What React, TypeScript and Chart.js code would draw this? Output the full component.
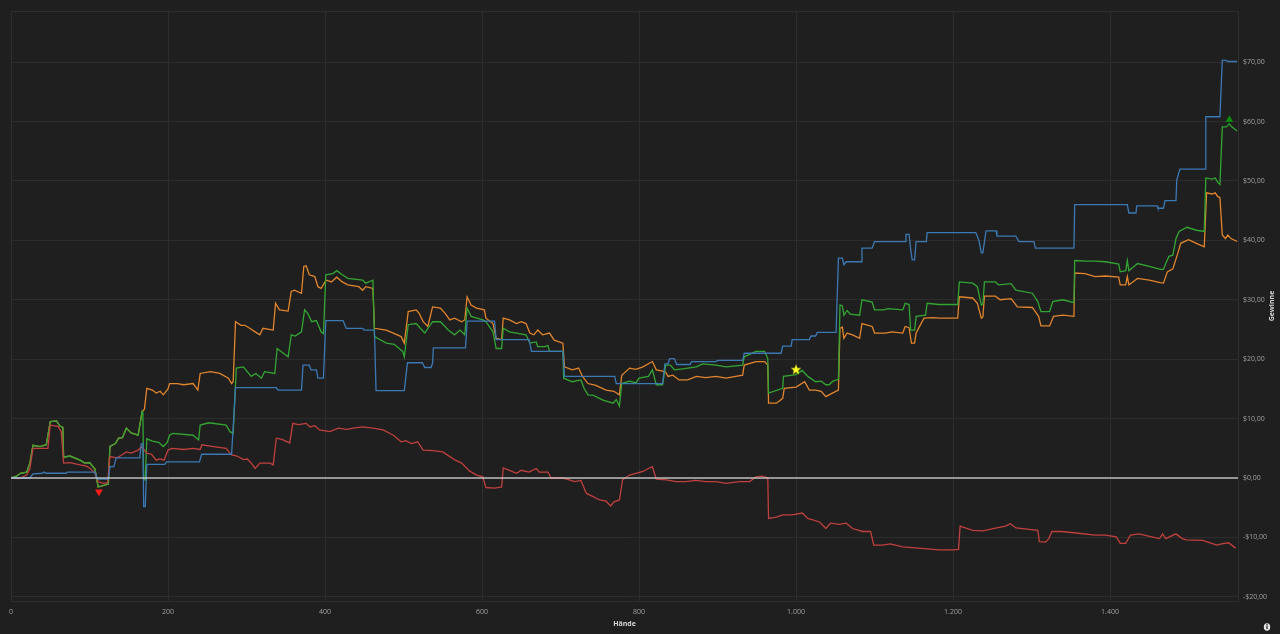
import React, { useEffect, useRef } from "react";
import { Chart, registerables } from "chart.js";

Chart.register(...registerables);

// ---- data: [hand, profit] ----
const blueSeries: [number, number][] = [
  [0, 0], [24, 0], [28, 0.7], [40, 0.8], [42, 1.0], [45, 0.8], [70, 0.8], [72, 1.0], [107, 1.0], [110, -0.2], [124, -0.2],
  [126, 1.9], [131, 1.9], [134, 3.4], [164, 3.4], [166, 5.8], [168, 5.8], [169, -4.8], [171, -4.8], [173, 2.3], [196, 2.3],
  [198, 2.7], [240, 2.7], [243, 4.0], [281, 4.0], [286, 15.2], [338, 15.2], [340, 14.8], [370, 14.8], [372, 19.0], [380, 19.0],
  [382, 18.2], [389, 18.2], [391, 16.8], [398, 16.8], [401, 26.5], [423, 26.5], [427, 25.2], [448, 25.2], [450, 24.9], [463, 24.9],
  [465, 14.7], [501, 14.7], [505, 19.4], [524, 19.4], [527, 18.6], [535, 18.6], [537, 19.3], [538, 21.9], [579, 21.9], [581, 26.4],
  [616, 26.4], [618, 23.3], [660, 23.3], [663, 21.3], [703, 21.3], [705, 17.1], [769, 17.1], [771, 15.9], [830, 15.9], [833, 19.2],
  [837, 19.2], [839, 20.1], [845, 20.1], [848, 19.1], [865, 19.1], [867, 19.6], [898, 19.6], [900, 19.8], [932, 19.8], [934, 21.0],
  [981, 21.0], [983, 22.2], [994, 22.2], [995, 23.3], [1017, 23.3], [1019, 23.9], [1025, 23.9], [1027, 24.5], [1051, 24.5], [1054, 37.0],
  [1059, 37.0], [1061, 35.9], [1064, 36.4], [1083, 36.4], [1084, 38.7], [1097, 38.7], [1100, 39.8], [1139, 39.8], [1140, 41.0], [1144, 41.0],
  [1146, 38.5], [1148, 36.7], [1151, 36.7], [1153, 39.8], [1166, 39.8], [1167, 41.3], [1229, 41.3], [1233, 40.0], [1236, 37.9], [1238, 37.9],
  [1242, 41.6], [1255, 41.6], [1256, 40.7], [1280, 40.7], [1284, 39.8], [1303, 39.8], [1305, 38.7], [1354, 38.7], [1355, 46.0], [1422, 46.0],
  [1424, 44.6], [1433, 44.6], [1434, 45.8], [1460, 45.8], [1461, 45.4], [1468, 45.4], [1470, 46.7], [1484, 46.7], [1485, 50.2], [1489, 52.0],
  [1521, 52.0], [1522, 60.8], [1540, 60.8], [1543, 70.3], [1548, 70.3], [1550, 70.1], [1562, 70.1],
];

const orangeSeries: [number, number][] = [
  [0, 0], [7, 0.3], [12, 0.8], [20, 1.0], [24, 2.5], [28, 5.5], [37, 5.3], [45, 5.6], [50, 9.5], [58, 9.6], [62, 8.8], [66, 8.5],
  [67, 3.5], [75, 3.7], [88, 3.0], [94, 2.5], [100, 2.6], [107, 1.5], [111, -1.5], [117, -1.3], [124, -1.0], [126, 5.3], [133, 5.8],
  [137, 6.7], [142, 6.8], [147, 8.4], [153, 7.6], [162, 7.2], [167, 11.2], [170, 11.6], [173, 15.1], [180, 14.8], [185, 14.3], [190, 14.6],
  [194, 14.0], [200, 15.0], [202, 15.9], [212, 15.9], [220, 15.7], [232, 15.9], [238, 14.8], [241, 17.6], [254, 17.9], [266, 17.6],
  [277, 16.8], [281, 15.9], [283, 16.2], [286, 26.3], [293, 25.7], [298, 25.7], [304, 25.2], [311, 24.6], [317, 24.1], [321, 25.2],
  [334, 24.9], [337, 29.4], [342, 28.3], [353, 28.1], [357, 31.4], [361, 31.6], [370, 31.1], [373, 35.6], [376, 35.7], [380, 34.2],
  [387, 33.9], [391, 32.2], [395, 31.9], [400, 33.0], [402, 33.3], [408, 33.0], [415, 33.8], [422, 33.0], [429, 32.5], [443, 32.2],
  [448, 31.6], [452, 32.2], [461, 31.9], [463, 25.2], [478, 24.9], [487, 24.4], [497, 23.8], [501, 22.7], [506, 28.0], [516, 28.3],
  [520, 27.7], [525, 26.3], [531, 25.5], [537, 28.8], [547, 28.6], [553, 27.7], [559, 26.6], [565, 26.9], [574, 26.3], [578, 26.6],
  [581, 30.5], [586, 29.1], [593, 28.6], [603, 28.3], [605, 26.9], [614, 26.0], [618, 23.5], [625, 23.3], [627, 26.9], [635, 26.6],
  [644, 26.0], [650, 26.3], [656, 26.0], [661, 24.4], [666, 24.1], [671, 24.9], [677, 24.1], [686, 24.4], [692, 23.2], [703, 22.7],
  [705, 18.7], [715, 18.2], [723, 18.5], [728, 17.1], [735, 15.9], [745, 15.6], [758, 14.8], [768, 14.6], [775, 14.0], [778, 17.3],
  [788, 18.5], [796, 18.3], [805, 18.7], [817, 19.6], [822, 18.2], [830, 18.0], [834, 17.8], [837, 17.1], [843, 17.3], [851, 16.5],
  [862, 16.5], [873, 17.1], [885, 16.9], [898, 17.1], [911, 16.8], [932, 17.3], [934, 19.0], [949, 19.6], [960, 19.6], [964, 19.0],
  [965, 12.6], [975, 12.6], [983, 13.4], [985, 15.1], [1000, 15.3], [1011, 16.2], [1017, 14.8], [1025, 14.8], [1032, 14.6], [1038, 13.7],
  [1045, 14.2], [1054, 14.8], [1056, 25.2], [1059, 25.4], [1061, 23.5], [1065, 24.4], [1072, 24.1], [1081, 23.5], [1084, 26.0], [1097, 25.5],
  [1100, 24.4], [1114, 24.4], [1122, 24.6], [1136, 24.4], [1139, 25.5], [1144, 25.3], [1147, 22.7], [1151, 22.7], [1153, 24.4], [1163, 26.9],
  [1175, 27.0], [1182, 26.9], [1206, 26.9], [1208, 30.5], [1225, 30.3], [1231, 29.4], [1236, 26.9], [1238, 27.1], [1240, 30.6], [1254, 30.6],
  [1260, 30.0], [1274, 30.2], [1282, 28.8], [1301, 28.7], [1309, 27.2], [1312, 25.6], [1323, 25.6], [1328, 27.2], [1340, 27.4], [1354, 27.2],
  [1355, 34.5], [1368, 34.4], [1381, 33.9], [1394, 34.0], [1411, 33.8], [1413, 32.5], [1420, 32.5], [1422, 33.9], [1424, 32.5], [1435, 33.6],
  [1450, 33.3], [1464, 32.9], [1468, 32.8], [1473, 34.7], [1480, 35.2], [1487, 38.1], [1490, 39.5], [1500, 40.1], [1510, 39.5], [1520, 38.9],
  [1523, 48.0], [1530, 47.8], [1534, 48.0], [1537, 47.4], [1540, 47.2], [1543, 40.9], [1547, 40.3], [1550, 40.9], [1554, 40.3], [1562, 39.8],
];

const greenSeries: [number, number][] = [
  [0, 0], [7, 0.3], [12, 0.8], [20, 1.0], [24, 2.5], [28, 5.5], [37, 5.3], [45, 5.6], [50, 9.5], [58, 9.6], [62, 8.8], [66, 8.5],
  [67, 3.5], [75, 3.7], [88, 3.0], [94, 2.5], [100, 2.6], [107, 1.5], [111, -1.5], [117, -1.3], [124, -1.0], [126, 5.3], [133, 5.8],
  [137, 6.7], [142, 6.8], [147, 8.4], [153, 7.6], [162, 7.2], [167, 11.2], [168, 11.0], [169, -0.3], [171, -0.3], [173, 6.6], [180, 6.2],
  [188, 6.0], [194, 5.3], [199, 6.0], [202, 7.2], [206, 7.5], [232, 7.2], [239, 6.4], [241, 8.9], [252, 9.3], [274, 8.9], [279, 7.8],
  [283, 7.5], [287, 18.5], [296, 18.7], [306, 17.1], [312, 17.6], [319, 16.8], [323, 17.9], [336, 17.6], [339, 21.8], [344, 21.3],
  [353, 20.4], [357, 24.1], [362, 23.9], [370, 24.6], [374, 28.3], [378, 27.7], [383, 26.3], [389, 26.5], [395, 24.6], [398, 24.3],
  [401, 34.2], [410, 34.4], [415, 34.9], [422, 34.2], [429, 33.6], [448, 33.3], [452, 32.8], [461, 33.3], [463, 23.8], [478, 22.7],
  [488, 22.5], [499, 21.3], [501, 20.4], [506, 25.8], [516, 26.0], [527, 24.4], [537, 26.3], [547, 26.3], [557, 24.9], [565, 24.1],
  [572, 24.9], [578, 24.1], [581, 28.6], [586, 27.2], [601, 26.6], [605, 26.3], [614, 24.6], [618, 21.8], [625, 21.8], [627, 25.2],
  [635, 24.6], [644, 24.4], [656, 24.1], [661, 22.7], [669, 22.9], [671, 22.1], [680, 22.1], [684, 22.3], [686, 21.3], [703, 21.3],
  [704, 16.8], [715, 16.2], [726, 16.5], [730, 15.1], [735, 14.0], [742, 13.9], [754, 13.1], [767, 12.6], [771, 13.2], [775, 12.1],
  [778, 15.9], [788, 16.3], [796, 16.0], [800, 16.8], [812, 17.1], [817, 18.2], [822, 15.7], [830, 15.7], [834, 19.0], [840, 19.0],
  [845, 18.2], [858, 18.4], [873, 18.7], [881, 19.2], [898, 19.0], [911, 18.7], [932, 19.0], [934, 20.4], [949, 21.3], [960, 21.3],
  [964, 20.1], [965, 14.3], [983, 15.1], [984, 17.1], [1000, 17.4], [1008, 18.1], [1015, 17.1], [1025, 16.2], [1032, 16.3], [1038, 15.7],
  [1042, 15.7], [1047, 16.3], [1054, 16.6], [1056, 29.1], [1059, 29.0], [1061, 27.4], [1065, 28.2], [1069, 27.6], [1081, 27.4], [1084, 30.0],
  [1097, 29.6], [1100, 28.3], [1112, 28.3], [1117, 28.5], [1136, 28.3], [1139, 29.4], [1144, 29.2], [1146, 24.9], [1151, 24.9], [1153, 27.2],
  [1165, 27.4], [1167, 29.4], [1182, 29.2], [1206, 29.2], [1208, 33.0], [1225, 32.8], [1231, 32.2], [1236, 29.1], [1238, 29.3], [1240, 33.0],
  [1254, 33.0], [1258, 32.5], [1274, 32.7], [1280, 31.6], [1301, 31.1], [1308, 29.7], [1312, 28.0], [1323, 28.0], [1327, 29.7], [1340, 30.0],
  [1354, 29.5], [1355, 36.6], [1370, 36.5], [1381, 36.5], [1394, 36.4], [1411, 36.0], [1413, 34.7], [1420, 34.9], [1422, 36.6], [1424, 34.9],
  [1435, 36.1], [1450, 35.6], [1464, 35.1], [1468, 35.1], [1471, 36.1], [1475, 37.3], [1480, 37.5], [1484, 40.3], [1488, 41.5], [1498, 42.2],
  [1510, 41.7], [1520, 41.5], [1522, 50.5], [1530, 50.3], [1534, 50.5], [1537, 49.8], [1540, 49.4], [1543, 59.1], [1548, 59.1], [1552, 59.6],
  [1555, 59.1], [1562, 58.4],
];

const redSeries: [number, number][] = [
  [0, 0], [10, -0.1], [20, 0.5], [24, 1.5], [28, 5.0], [47, 5.0], [50, 8.9], [60, 8.7], [64, 7.8], [67, 2.5], [75, 2.6], [88, 2.2],
  [96, 2.0], [101, 1.6], [107, 0.8], [111, -0.6], [117, -0.9], [123, -0.8], [126, 3.6], [135, 3.4], [140, 3.8], [147, 4.4], [153, 4.2],
  [162, 4.7], [166, 5.3], [173, 4.2], [179, 4.0], [185, 3.0], [190, 3.2], [195, 3.0], [200, 4.7], [205, 5.0], [220, 4.8], [232, 5.0],
  [241, 4.8], [243, 5.6], [258, 5.3], [274, 5.0], [281, 3.9], [288, 3.7], [296, 3.1], [301, 3.2], [306, 2.5], [311, 1.6], [317, 2.5],
  [330, 2.5], [334, 2.2], [338, 6.7], [345, 6.5], [355, 5.9], [359, 9.2], [366, 9.0], [376, 9.2], [381, 8.6], [387, 8.8], [393, 8.1],
  [406, 7.8], [417, 8.4], [428, 8.2], [436, 8.4], [448, 8.6], [461, 8.4], [474, 8.1], [487, 7.2], [497, 6.1], [503, 6.3], [510, 5.8],
  [518, 6.1], [525, 4.7], [537, 4.6], [550, 4.4], [559, 3.6], [566, 3.0], [574, 2.5], [584, 1.2], [593, 0.5], [601, 0.2], [605, -1.6],
  [616, -1.7], [625, -1.5], [627, 1.7], [635, 1.3], [644, 0.8], [650, 1.3], [660, 1.0], [669, 1.6], [673, 1.0], [684, 1.0], [688, 0.0],
  [703, 0.0], [708, -0.2], [718, -0.6], [726, -0.4], [733, -2.6], [741, -3.1], [750, -3.7], [758, -3.9], [764, -4.7], [768, -4.0],
  [775, -3.7], [779, -0.3], [788, 0.5], [796, 0.8], [805, 1.1], [812, 1.6], [817, 1.9], [822, -0.2], [835, -0.3], [847, -0.6], [860, -0.6],
  [872, -0.4], [885, -0.6], [898, -0.6], [911, -0.9], [928, -0.6], [941, -0.6], [949, 0.2], [957, 0.3], [964, 0.0], [965, -6.8],
  [975, -6.6], [983, -6.2], [995, -6.2], [1008, -5.9], [1015, -6.8], [1030, -7.4], [1038, -8.5], [1044, -7.6], [1055, -7.8], [1064, -7.6],
  [1072, -8.5], [1085, -9.0], [1095, -9.0], [1099, -11.3], [1110, -11.3], [1120, -11.1], [1136, -11.6], [1156, -11.8], [1182, -12.1],
  [1200, -12.1], [1207, -12.0], [1209, -8.1], [1225, -8.8], [1238, -8.9], [1251, -8.5], [1267, -8.1], [1273, -7.7], [1280, -8.4],
  [1308, -8.8], [1310, -10.7], [1318, -10.8], [1322, -10.2], [1326, -9.0], [1338, -9.0], [1360, -9.3], [1381, -9.6], [1394, -9.6],
  [1408, -9.9], [1413, -11.0], [1420, -11.0], [1426, -9.6], [1437, -9.4], [1453, -9.9], [1463, -10.2], [1467, -9.4], [1471, -10.2],
  [1484, -9.4], [1492, -10.2], [1497, -10.4], [1518, -10.5], [1536, -11.3], [1542, -11.1], [1551, -10.9], [1560, -11.8],
];

const minMarker: [number, number] = [112, -2.3];
const starMarker: [number, number] = [1000, 18.3];
const maxMarker: [number, number] = [1552, 60.3];

const xTicks = [0, 200, 400, 600, 800, 1000, 1200, 1400];
const yTicks = [-20, -10, 0, 10, 20, 30, 40, 50, 60, 70];
const xMin = 0;
const xMax = 1563;
const yMin = -20.7;
const yMax = 78.6;
const xTitle = "Hände";
const yTitle = "Gewinne";

const FONT = "'Open Sans', 'Noto Sans', sans-serif";
const BG = "#1f1f1f";
const GRID = "#2d2d2d";

const toPts = (arr: [number, number][]) => arr.map(([x, y]) => ({ x, y }));

const fmtThousands = (v: number) => {
  const s = String(Math.round(Math.abs(v)));
  const out = s.replace(/\B(?=(\d{3})+(?!\d))/g, ".");
  return (v < 0 ? "-" : "") + out;
};
const fmtMoney = (v: number) => {
  const s = Math.abs(v).toFixed(2).replace(".", ",");
  return (v < 0 ? "-$" : "$") + s;
};

function makeStar(): HTMLCanvasElement {
  const c = document.createElement("canvas");
  const size = 12;
  c.width = size;
  c.height = size;
  const ctx = c.getContext("2d")!;
  const cx = size / 2, cy = size / 2 + 0.5, ro = 5.5, ri = 2.3;
  ctx.beginPath();
  for (let i = 0; i < 10; i++) {
    const r = i % 2 === 0 ? ro : ri;
    const a = -Math.PI / 2 + (i * Math.PI) / 5;
    const px = cx + r * Math.cos(a);
    const py = cy + r * Math.sin(a);
    if (i === 0) ctx.moveTo(px, py);
    else ctx.lineTo(px, py);
  }
  ctx.closePath();
  ctx.fillStyle = "#ffff22";
  ctx.fill();
  return c;
}

const framePlugin = {
  id: "framePlugin",
  beforeDraw(chart: any) {
    const { ctx, width, height } = chart;
    ctx.save();
    ctx.fillStyle = BG;
    ctx.fillRect(0, 0, width, height);
    ctx.restore();
  },
  beforeDatasetsDraw(chart: any) {
    const { ctx, chartArea } = chart;
    ctx.save();
    ctx.strokeStyle = GRID;
    ctx.lineWidth = 1;
    ctx.strokeRect(
      Math.round(chartArea.left) + 0.5,
      Math.round(chartArea.top) + 0.5,
      Math.round(chartArea.right - chartArea.left),
      Math.round(chartArea.bottom - chartArea.top)
    );
    ctx.restore();
  },
  afterDatasetsDraw(chart: any) {
    const { ctx, chartArea, scales } = chart;
    const y0 = scales.y.getPixelForValue(0);
    ctx.save();
    ctx.strokeStyle = "rgba(215,215,215,0.85)";
    ctx.lineWidth = 1.5;
    ctx.beginPath();
    ctx.moveTo(chartArea.left, y0);
    ctx.lineTo(chartArea.right, y0);
    ctx.stroke();
    ctx.restore();
  },
  afterDraw(chart: any) {
    const { ctx, chartArea, width, height } = chart;
    ctx.save();
    ctx.fillStyle = "#d6d6d6";
    ctx.font = `bold 7px ${FONT}`;
    ctx.textAlign = "center";
    ctx.textBaseline = "middle";
    ctx.fillText(xTitle, (chartArea.left + chartArea.right) / 2, 624);
    ctx.translate(1272, (chartArea.top + chartArea.bottom) / 2);
    ctx.rotate(-Math.PI / 2);
    ctx.fillText(yTitle, 0, 0);
    ctx.restore();
    // info icon
    ctx.save();
    ctx.fillStyle = "#e6e6e6";
    ctx.beginPath();
    ctx.ellipse(width - 13, height - 7, 3.2, 3.8, 0, 0, Math.PI * 2);
    ctx.fill();
    ctx.fillStyle = BG;
    ctx.fillRect(width - 13.6, height - 8.5, 1.2, 3.6);
    ctx.fillRect(width - 13.6, height - 10, 1.2, 1);
    ctx.restore();
  },
};

export default function App() {
  const canvasRef = useRef<HTMLCanvasElement | null>(null);

  useEffect(() => {
    document.body.style.margin = "0";
    document.body.style.background = BG;
    const canvas = canvasRef.current;
    if (!canvas) return;
    const star = makeStar();
    const lineDs = (label: string, data: [number, number][], color: string) => ({
      type: "line" as const,
      label,
      data: toPts(data),
      borderColor: color,
      backgroundColor: color,
      borderWidth: 1.3,
      pointRadius: 0,
      pointHoverRadius: 0,
      tension: 0,
      fill: false,
    });
    const chart = new Chart(canvas, {
      type: "line",
      data: {
        datasets: [
          {
            type: "scatter" as const,
            label: "min",
            data: [{ x: minMarker[0], y: minMarker[1] }],
            pointStyle: "triangle",
            rotation: 180,
            pointRadius: 4.5,
            backgroundColor: "#ff1a1a",
            borderColor: "#ff1a1a",
            borderWidth: 0,
            showLine: false,
          } as any,
          {
            type: "scatter" as const,
            label: "star",
            data: [{ x: starMarker[0], y: starMarker[1] }],
            pointStyle: star,
            pointRadius: 6,
            showLine: false,
          } as any,
          {
            type: "scatter" as const,
            label: "max",
            data: [{ x: maxMarker[0], y: maxMarker[1] }],
            pointStyle: "triangle",
            pointRadius: 4.5,
            backgroundColor: "#0a8a0a",
            borderColor: "#0a8a0a",
            borderWidth: 0,
            showLine: false,
          } as any,
          lineDs("Blau", blueSeries, "#3c79b4"),
          lineDs("Rot", redSeries, "#c0403e"),
          lineDs("Grün", greenSeries, "#33a533"),
          lineDs("Orange", orangeSeries, "#e2852c"),
        ],
      },
      options: {
        responsive: false,
        animation: false,
        events: [],
        layout: { padding: { left: 11, top: 11, right: 0, bottom: 0 } },
        plugins: {
          legend: { display: false },
          tooltip: { enabled: false },
        },
        scales: {
          x: {
            type: "linear",
            position: "bottom",
            min: xMin,
            max: xMax,
            afterFit: (s: any) => {
              s.height = 33;
            },
            afterBuildTicks: (s: any) => {
              s.ticks = xTicks.map((v) => ({ value: v }));
            },
            grid: { color: GRID, lineWidth: 1, drawTicks: false },
            border: { display: false },
            ticks: {
              color: "#a0a0a0",
              font: { size: 7, family: FONT },
              padding: 7,
              maxRotation: 0,
              autoSkip: false,
              callback: (v: any) => fmtThousands(Number(v)),
            },
          },
          y: {
            type: "linear",
            position: "right",
            min: yMin,
            max: yMax,
            afterFit: (s: any) => {
              s.width = 42;
            },
            afterBuildTicks: (s: any) => {
              s.ticks = yTicks.map((v) => ({ value: v }));
            },
            grid: { color: GRID, lineWidth: 1, drawTicks: false },
            border: { display: false },
            ticks: {
              color: "#a0a0a0",
              font: { size: 7, family: FONT },
              padding: 5,
              autoSkip: false,
              callback: (v: any) => fmtMoney(Number(v)),
            },
          },
        },
      } as any,
      plugins: [framePlugin],
    });
    return () => chart.destroy();
  }, []);

  return (
    <div style={{ position: "fixed", left: 0, top: 0, width: 1280, height: 634, background: BG }}>
      <canvas ref={canvasRef} width={1280} height={634} style={{ display: "block", width: 1280, height: 634 }} />
    </div>
  );
}
